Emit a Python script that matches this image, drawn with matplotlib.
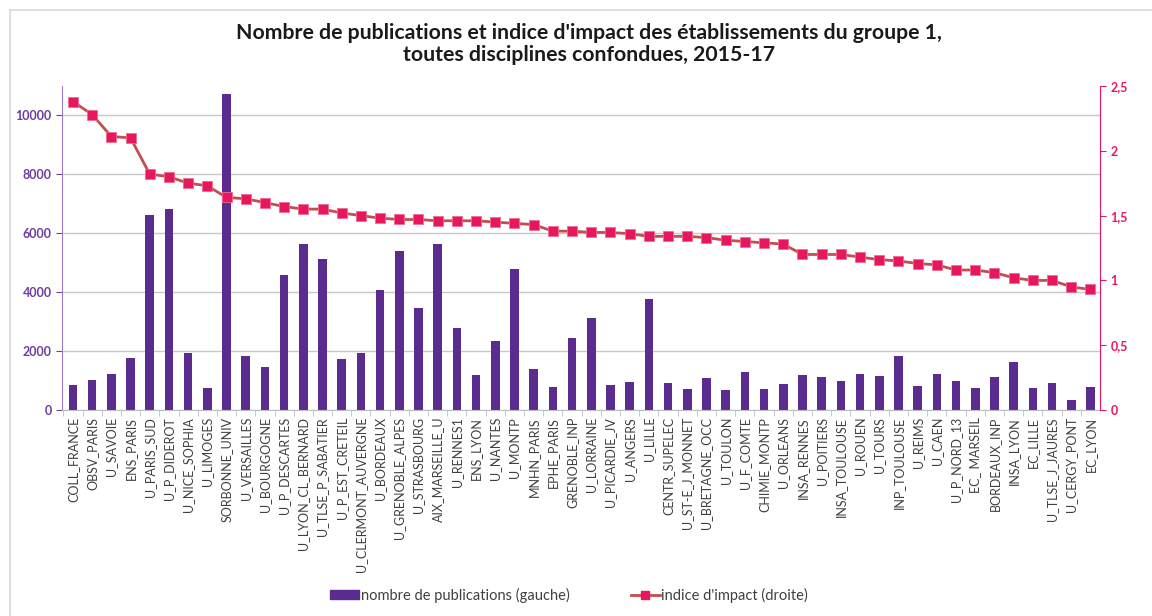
import matplotlib
matplotlib.use("Agg")
from matplotlib import pyplot as plt
from matplotlib.lines import Line2D
from matplotlib.ticker import FuncFormatter

# Données
etablissements = [
    "COLL_FRANCE", "OBSV_PARIS", "U_SAVOIE", "ENS_PARIS", "U_PARIS_SUD",
    "U_P_DIDEROT", "U_NICE_SOPHIA", "U_LIMOGES", "SORBONNE_UNIV", "U_VERSAILLES",
    "U_BOURGOGNE", "U_P_DESCARTES", "U_LYON_CL_BERNARD", "U_TLSE_P_SABATIER",
    "U_P_EST_CRETEIL", "U_CLERMONT_AUVERGNE", "U_BORDEAUX", "U_GRENOBLE_ALPES",
    "U_STRASBOURG", "AIX_MARSEILLE_U", "U_RENNES1", "ENS_LYON", "U_NANTES",
    "U_MONTP", "MNHN_PARIS", "EPHE_PARIS", "GRENOBLE_INP", "U_LORRAINE",
    "U_PICARDIE_JV", "U_ANGERS", "U_LILLE", "CENTR_SUPELEC", "U_ST-E_J_MONNET",
    "U_BRETAGNE_OCC", "U_TOULON", "U_F_COMTE", "CHIMIE_MONTP", "U_ORLEANS",
    "INSA_RENNES", "U_POITIERS", "INSA_TOULOUSE", "U_ROUEN", "U_TOURS",
    "INP_TOULOUSE", "U_REIMS", "U_CAEN", "U_P_NORD_13", "EC_ MARSEIL",
    "BORDEAUX_INP", "INSA_LYON", "EC_LILLE", "U_TLSE_J_JAURES", "U_CERGY_PONT",
    "EC_LYON",
]

publications = [
    840, 1030, 1230, 1780, 6620, 6820, 1930, 750, 10730, 1850,
    1470, 4600, 5620, 5110, 1720, 1920, 4070, 5400, 3450, 5620,
    2790, 1190, 2350, 4800, 1380, 790, 2450, 3110, 840, 940,
    3760, 900, 710, 1090, 670, 1290, 710, 870, 1190, 1120,
    990, 1230, 1170, 1830, 810, 1230, 970, 750, 1120, 1640,
    760, 900, 340, 790,
]

indice_impact = [
    2.38, 2.28, 2.11, 2.10, 1.82, 1.80, 1.75, 1.73, 1.64, 1.63,
    1.60, 1.57, 1.55, 1.55, 1.52, 1.50, 1.48, 1.47, 1.47, 1.46,
    1.46, 1.46, 1.45, 1.44, 1.43, 1.38, 1.38, 1.37, 1.37, 1.36,
    1.34, 1.34, 1.34, 1.33, 1.31, 1.30, 1.29, 1.28, 1.20, 1.20,
    1.20, 1.18, 1.16, 1.15, 1.13, 1.12, 1.08, 1.08, 1.06, 1.02,
    1.00, 1.00, 0.95, 0.93,
]

ticks_gauche = [0, 2000, 4000, 6000, 8000, 10000]
ticks_droite = [0, 0.5, 1, 1.5, 2, 2.5]

violet = "#5B2C8F"
rose = "#E8175D"
brique = "#C0504D"

plt.rcParams["font.family"] = ["Lato", "DejaVu Sans"]

fig = plt.figure(figsize=(11.52, 6.16), dpi=100)
ax = fig.add_axes([0.0538, 0.3344, 0.9011, 0.526])

x = list(range(len(etablissements)))
ax.bar(x, publications, width=0.45, color=violet, zorder=2)
ax.set_ylim(0, 11000)
ax.set_xlim(-0.57, 53.5)
ax.set_yticks(ticks_gauche)
ax.tick_params(axis="y", colors="#6A3FA0", labelsize=9, length=4, direction="out")
for lab in ax.get_yticklabels():
    lab.set_fontweight("bold")
ax.yaxis.grid(True, color="#C8C8C8", linewidth=1)
ax.set_axisbelow(True)

ax.set_xticks(x)
ax.set_xticklabels(etablissements, rotation=90, fontsize=9, color="#404040")
ax.tick_params(axis="x", length=0, pad=5)
ax.set_xticks([i + 0.5 for i in x[:-1]] + [-0.5], minor=True)
ax.tick_params(axis="x", which="minor", length=4, color="#BFBFBF")

for s in ["top", "right"]:
    ax.spines[s].set_visible(False)
ax.spines["left"].set_color("#9C7BD0")
ax.spines["bottom"].set_color("#BFBFBF")

ax2 = ax.twinx()
ax2.plot(x, indice_impact, color=brique, linewidth=2, marker="s",
         markersize=6.5, markerfacecolor=rose, markeredgecolor="#F06A90",
         markeredgewidth=0.6, zorder=3)
ax2.set_ylim(0, 2.5)
ax2.set_yticks(ticks_droite)
ax2.yaxis.set_major_formatter(FuncFormatter(lambda v, p: f"{v:g}".replace(".", ",")))
ax2.tick_params(axis="y", colors=rose, labelsize=9, length=4, direction="out")
for lab in ax2.get_yticklabels():
    lab.set_fontweight("bold")
for s in ["top", "left", "bottom"]:
    ax2.spines[s].set_visible(False)
ax2.spines["right"].set_color(rose)

fig.text(0.511, 0.928, "Nombre de publications et indice d'impact des établissements du groupe 1,\n"
         "toutes disciplines confondues, 2015-17",
         ha="center", va="center", fontsize=15.3, fontweight="bold",
         color="#1A1A1A", linespacing=1.12)

poignees = [
    plt.Rectangle((0, 0), 1, 1, color=violet),
    Line2D([0], [0], color=brique, linewidth=2, marker="s", markersize=6,
           markerfacecolor=rose, markeredgecolor=rose),
]
fig.legend(poignees, ["nombre de publications (gauche)", "indice d'impact (droite)"],
           loc="center", bbox_to_anchor=(0.494, 0.034), ncol=2, frameon=False,
           fontsize=10.5, handlelength=2.0, handleheight=0.6, handletextpad=0.1,
           columnspacing=4.2, labelcolor="#404040")

# cadre du graphique (bords gauche et haut)
fig.add_artist(Line2D([10 / 1152, 1], [1 - 10 / 616, 1 - 10 / 616],
                      transform=fig.transFigure, color="#D9D9D9", linewidth=1.2))
fig.add_artist(Line2D([10 / 1152, 10 / 1152], [0, 1 - 10 / 616],
                      transform=fig.transFigure, color="#D9D9D9", linewidth=1.2))

fig.savefig("out.png", dpi=100)
plt.close(fig)
